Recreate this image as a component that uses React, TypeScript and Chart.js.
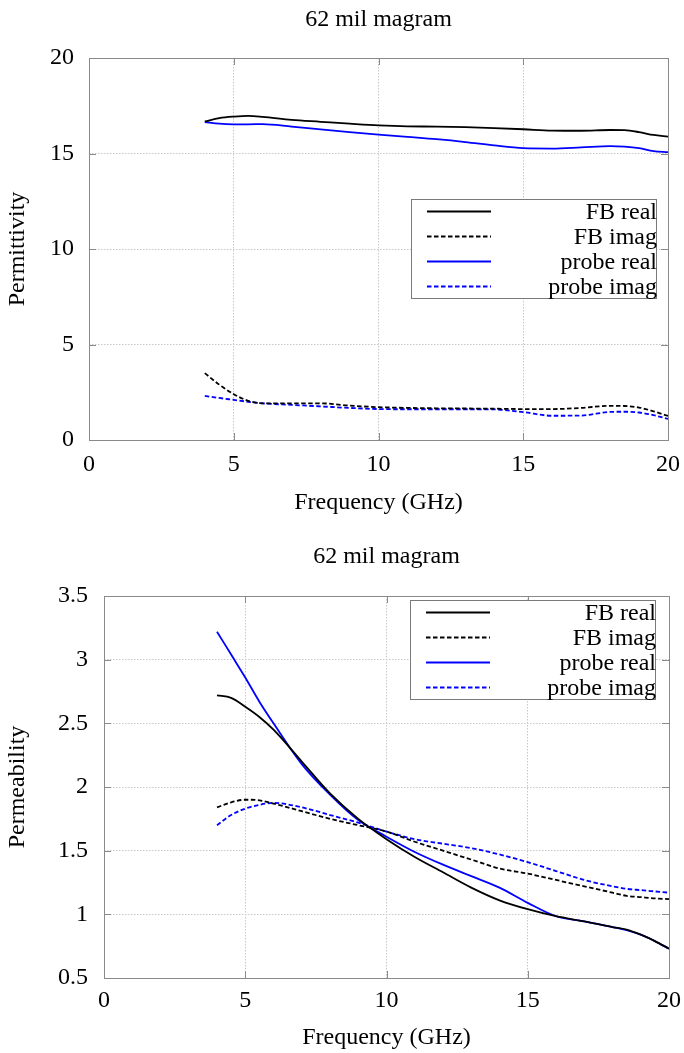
import React, { useEffect, useRef } from "react";
import { Chart, registerables } from "chart.js";

Chart.register(...registerables);

// ---------------- data ----------------
const chartTitle = "62 mil magram";
const xAxisTitle = "Frequency (GHz)";
const seriesLabels = ["FB real", "FB imag", "probe real", "probe imag"];

const frequencyGHz = [4, 4.5, 5, 5.5, 6, 7, 8, 9, 10, 11, 12, 13, 14, 15, 16, 17, 18, 18.5, 19, 19.5, 20];

// Permittivity (top chart)
const permittivityFbReal = [16.68, 16.85, 16.93, 16.97, 16.92, 16.76, 16.66, 16.56, 16.47, 16.42, 16.41, 16.38, 16.33, 16.27, 16.2, 16.19, 16.23, 16.22, 16.12, 15.97, 15.88];
const permittivityFbImag = [3.5, 2.9, 2.4, 2.05, 1.92, 1.92, 1.92, 1.8, 1.72, 1.68, 1.66, 1.65, 1.64, 1.62, 1.62, 1.68, 1.79, 1.78, 1.7, 1.5, 1.26];
const permittivityProbeReal = [16.65, 16.56, 16.53, 16.53, 16.54, 16.41, 16.26, 16.12, 15.99, 15.87, 15.75, 15.6, 15.42, 15.28, 15.26, 15.32, 15.39, 15.36, 15.28, 15.13, 15.07];
const permittivityProbeImag = [2.31, 2.2, 2.1, 2.0, 1.92, 1.84, 1.76, 1.68, 1.62, 1.61, 1.61, 1.61, 1.6, 1.46, 1.27, 1.28, 1.47, 1.48, 1.44, 1.3, 1.1];

// Permeability (bottom chart)
const permeabilityFbReal = [2.72, 2.7, 2.63, 2.55, 2.45, 2.2, 1.95, 1.75, 1.59, 1.45, 1.33, 1.21, 1.11, 1.04, 0.985, 0.945, 0.9, 0.88, 0.84, 0.79, 0.73];
const permeabilityFbImag = [1.84, 1.88, 1.9, 1.895, 1.87, 1.81, 1.75, 1.7, 1.65, 1.57, 1.5, 1.43, 1.36, 1.32, 1.27, 1.22, 1.17, 1.145, 1.135, 1.125, 1.12];
const permeabilityProbeReal = [3.22, 3.04, 2.86, 2.67, 2.5, 2.18, 1.94, 1.74, 1.61, 1.49, 1.39, 1.3, 1.21, 1.09, 0.985, 0.945, 0.9, 0.875, 0.84, 0.79, 0.73];
const permeabilityProbeImag = [1.7, 1.78, 1.83, 1.86, 1.875, 1.84, 1.78, 1.72, 1.65, 1.59, 1.555, 1.52, 1.47, 1.41, 1.34, 1.27, 1.22, 1.2, 1.19, 1.18, 1.17];

// ---------------- styles ----------------
const FONT_FAMILY = "'Liberation Serif', 'Times New Roman', Times, serif";
const seriesColors = ["#000000", "#000000", "#0000ff", "#0000ff"];
const seriesDashes: number[][] = [[], [4.5, 2.5], [], [4.5, 2.5]];

const frameTicks = {
  id: "frameTicks",
  afterDatasetsDraw(chart: any) {
    const { ctx, chartArea, scales } = chart;
    const { left, right, top, bottom } = chartArea;
    ctx.save();
    ctx.strokeStyle = "#8a8a8a";
    ctx.lineWidth = 1;
    ctx.setLineDash([]);
    ctx.beginPath();
    const tl = 7;
    scales.x.ticks.forEach((t: any) => {
      const px = Math.round(scales.x.getPixelForValue(t.value)) + 0.5;
      ctx.moveTo(px, bottom);
      ctx.lineTo(px, bottom - tl);
      ctx.moveTo(px, top);
      ctx.lineTo(px, top + tl);
    });
    scales.y.ticks.forEach((t: any) => {
      const py = Math.round(scales.y.getPixelForValue(t.value)) + 0.5;
      ctx.moveTo(left, py);
      ctx.lineTo(left + tl, py);
      ctx.moveTo(right, py);
      ctx.lineTo(right - tl, py);
    });
    ctx.stroke();
    ctx.strokeRect(Math.round(left) + 0.5, Math.round(top) + 0.5, Math.round(right - left), Math.round(bottom - top));
    ctx.restore();
  },
};

const boxLegend = {
  id: "boxLegend",
  afterDraw(chart: any, _args: any, opts: any) {
    const { ctx, chartArea } = chart;
    const right = Math.round(chartArea.right - opts.right);
    const left = right - opts.width;
    const top = Math.round(chartArea.top + opts.top);
    ctx.save();
    ctx.fillStyle = "#ffffff";
    ctx.fillRect(left, top, opts.width, opts.height);
    ctx.strokeStyle = "#7a7a7a";
    ctx.lineWidth = 1;
    ctx.setLineDash([]);
    ctx.strokeRect(left + 0.5, top + 0.5, opts.width, opts.height);
    ctx.font = `24px ${FONT_FAMILY}`;
    ctx.textAlign = "right";
    ctx.textBaseline = "middle";
    chart.data.datasets.forEach((ds: any, i: number) => {
      const y = top + opts.rowStart + i * opts.rowGap;
      ctx.beginPath();
      ctx.strokeStyle = ds.borderColor;
      ctx.lineWidth = ds.borderWidth;
      ctx.setLineDash(ds.borderDash || []);
      ctx.moveTo(left + opts.sampleStart, y);
      ctx.lineTo(left + opts.sampleEnd, y);
      ctx.stroke();
      ctx.setLineDash([]);
      ctx.fillStyle = "#000000";
      ctx.fillText(ds.label, right + 1, y + 1);
    });
    ctx.restore();
  },
};

type Layout = {
  padRight: number;
  titleTop: number;
  titleBottom: number;
  xAxisHeight: number;
  xTickPad: number;
  xTitlePad: number;
  yAxisWidth: number;
  yTickPad: number;
  yTitlePad: number;
  legendRight: number;
  legendTop: number;
};

function buildConfig(
  series: number[][],
  yTitle: string,
  yMin: number,
  yMax: number,
  yStep: number,
  L: Layout
): any {
  const font = { family: FONT_FAMILY, size: 24, weight: "normal" as const };
  return {
    type: "line",
    data: {
      datasets: seriesLabels.map((label, i) => ({
        label,
        data: frequencyGHz.map((f, k) => ({ x: f, y: series[i][k] })),
        borderColor: seriesColors[i],
        borderDash: seriesDashes[i],
        borderWidth: 1.8,
        pointRadius: 0,
        fill: false,
        cubicInterpolationMode: "monotone",
      })),
    },
    options: {
      responsive: false,
      animation: false,
      devicePixelRatio: 1,
      layout: { padding: { left: 0, right: L.padRight, top: 0, bottom: 0 } },
      plugins: {
        legend: { display: false },
        tooltip: { enabled: false },
        title: {
          display: true,
          text: chartTitle,
          fullSize: false,
          color: "#000",
          font,
          padding: { top: L.titleTop, bottom: L.titleBottom },
        },
        boxLegend: {
          right: L.legendRight,
          top: L.legendTop,
          width: 245,
          height: 99,
          rowStart: 12.5,
          rowGap: 25,
          sampleStart: 16,
          sampleEnd: 80,
        },
      },
      scales: {
        x: {
          type: "linear",
          min: 0,
          max: 20,
          afterFit: (s: any) => {
            s.height = L.xAxisHeight;
            s.paddingLeft = 0;
            s.paddingRight = 0;
          },
          ticks: { stepSize: 5, color: "#000", font, padding: L.xTickPad, maxRotation: 0 },
          grid: { color: "#c8c8c8", lineWidth: 1, drawTicks: false },
          border: { display: false, dash: [1.5, 1.5] },
          title: { display: true, text: xAxisTitle, color: "#000", font, padding: { top: 0, bottom: L.xTitlePad } },
        },
        y: {
          type: "linear",
          min: yMin,
          max: yMax,
          afterFit: (s: any) => {
            s.width = L.yAxisWidth;
            s.paddingTop = 0;
            s.paddingBottom = 0;
          },
          ticks: {
            stepSize: yStep,
            color: "#000",
            font,
            padding: L.yTickPad,
            callback: (v: any) => `${Math.round(Number(v) * 10) / 10}`,
          },
          grid: { color: "#c8c8c8", lineWidth: 1, drawTicks: false },
          border: { display: false, dash: [1.5, 1.5] },
          title: { display: true, text: yTitle, color: "#000", font, padding: { top: L.yTitlePad, bottom: 0 } },
        },
      },
    },
    plugins: [frameTicks, boxLegend],
  };
}

function ChartCanvas({ config, width, height, top }: { config: any; width: number; height: number; top: number }) {
  const ref = useRef<HTMLCanvasElement | null>(null);
  useEffect(() => {
    if (!ref.current) return;
    const chart = new Chart(ref.current, config);
    return () => chart.destroy();
  }, [config]);
  return (
    <canvas
      ref={ref}
      width={width}
      height={height}
      style={{ position: "absolute", left: 0, top, width, height, display: "block" }}
    />
  );
}

const topConfig = buildConfig(
  [permittivityFbReal, permittivityFbImag, permittivityProbeReal, permittivityProbeImag],
  "Permittivity",
  0,
  20,
  5,
  {
    padRight: 16,
    titleTop: 5,
    titleBottom: 24.2,
    xAxisHeight: 90,
    xTickPad: 10,
    xTitlePad: 13,
    yAxisWidth: 89,
    yTickPad: 15,
    yTitlePad: 3.5,
    legendRight: 12,
    legendTop: 141,
  }
);

const bottomConfig = buildConfig(
  [permeabilityFbReal, permeabilityFbImag, permeabilityProbeReal, permeabilityProbeImag],
  "Permeability",
  0.5,
  3.5,
  0.5,
  {
    padRight: 15,
    titleTop: 12.5,
    titleBottom: 24.7,
    xAxisHeight: 75,
    xTickPad: 8,
    xTitlePad: 1,
    yAxisWidth: 104,
    yTickPad: 16,
    yTitlePad: 3.5,
    legendRight: 14,
    legendTop: 4,
  }
);

export default function App() {
  return (
    <div style={{ position: "absolute", left: 0, top: 0, width: 684, height: 1053, background: "#fff" }}>
      <ChartCanvas config={topConfig} width={684} height={530} top={0} />
      <ChartCanvas config={bottomConfig} width={684} height={523} top={530} />
    </div>
  );
}
